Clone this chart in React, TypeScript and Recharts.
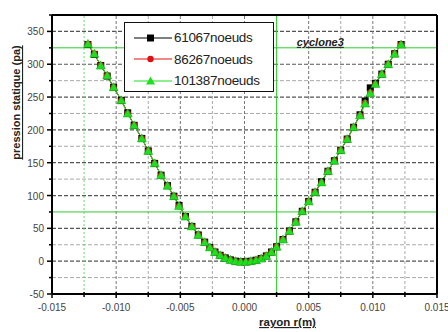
import React from "react";
import { LineChart, Line, XAxis, YAxis, ReferenceLine, ReferenceDot, Label } from "recharts";

// rayon r (m) at each mesh node along the cut
const R_VALUES = [
  -0.0122, -0.0117, -0.0112, -0.0107, -0.0102, -0.0096, -0.0091, -0.0086, -0.008, -0.0075,
  -0.007, -0.0065, -0.006, -0.0055, -0.0051, -0.0046, -0.0041, -0.0036, -0.0031, -0.0027,
  -0.0023, -0.0019, -0.0015, -0.0011, -0.0007, -0.0003, 0.0001, 0.0005, 0.0009, 0.0013,
  0.0017, 0.0021, 0.0025, 0.003, 0.0035, 0.004, 0.0045, 0.005, 0.0055, 0.006,
  0.0065, 0.007, 0.0075, 0.008, 0.0085, 0.009, 0.0094, 0.0098, 0.0102, 0.0107,
  0.0112, 0.0117, 0.0122,
];

// pression statique (pa) for each mesh
const P_61067 = [
  330, 315, 298, 282, 265, 245, 226, 207, 187, 168,
  149, 131, 115, 99, 85, 68, 53, 40, 29, 21,
  14, 9, 5, 2, 0, -1, -1, 0, 1.5, 4,
  8, 14, 22, 33, 46, 60, 76, 91, 105, 121,
  137, 153, 169, 186, 204, 223, 244, 264, 271, 285,
  300, 316, 330,
];
const P_86267 = [
  331, 316, 298, 283, 265, 245, 225, 207, 187, 168,
  149, 131, 115, 99, 84, 68, 53, 40, 29, 21,
  14, 9, 5, 2, 0, -1, -1, 0, 1.5, 4,
  8, 14, 22, 33, 46, 60, 76, 91, 105, 120,
  137, 153, 169, 186, 204, 222, 241, 257, 270, 285,
  300, 316, 330,
];
const P_101387 = [
  331, 316, 298, 283, 265, 245, 225, 207, 187, 168,
  149, 131, 115, 99, 84, 68, 53, 40, 29, 21,
  14, 9, 5, 2, 0, -1, -1, 0, 1.5, 4,
  8, 14, 22, 33, 46, 60, 76, 91, 105, 120,
  137, 153, 169, 186, 204, 222, 240, 256, 270, 285,
  300, 316, 330,
];

const SERIES_NAMES = ["61067noeuds", "86267noeuds", "101387noeuds"];
const SERIES_COLORS = ["#000000", "#e01010", "#1ee01e"];

const X_TICKS = [-0.015, -0.0125, -0.01, -0.0075, -0.005, -0.0025, 0, 0.0025, 0.005, 0.0075, 0.01, 0.0125, 0.015];
const X_LABELED = [-0.015, -0.01, -0.005, 0, 0.005, 0.01, 0.015];
const Y_TICKS = [-50, -25, 0, 25, 50, 75, 100, 125, 150, 175, 200, 225, 250, 275, 300, 325, 350, 375];
const Y_LABELED = [-50, 0, 50, 100, 150, 200, 250, 300, 350];

// green reference lines
const GREEN_H = [325, 75];
const GREEN_V = [0.0025];
const GREEN_V_DOTTED = [-0.0125];

const data = R_VALUES.map((r, i) => ({
  r,
  a: P_61067[i],
  b: P_86267[i],
  c: P_101387[i],
}));

const FONT = "'Liberation Sans', Arial, sans-serif";

const isLabeledX = (v: number) => X_LABELED.some((t) => Math.abs(t - v) < 1e-9);
const isLabeledY = (v: number) => Y_LABELED.includes(v);

const XTick = (props: any) => {
  const { x, y, payload } = props;
  const major = isLabeledX(payload.value);
  return (
    <g>
      <line x1={x} y1={y - 2} x2={x} y2={y + (major ? 4 : 3)} stroke="#000" strokeWidth={1.5} />
      {major && (
        <text x={x} y={y + 17} textAnchor="middle" fontSize={10} fontFamily={FONT} fill="#444">
          {payload.value.toFixed(3)}
        </text>
      )}
    </g>
  );
};

const YTick = (props: any) => {
  const { x, y, payload } = props;
  const major = isLabeledY(payload.value);
  return (
    <g>
      <line x1={x} y1={y} x2={x - (major ? 5 : 3)} y2={y} stroke="#000" strokeWidth={1.5} />
      {major && (
        <text x={x - 8} y={y + 4} textAnchor="end" fontSize={10} fontFamily={FONT} fill="#444">
          {payload.value}
        </text>
      )}
    </g>
  );
};

const SquareDot = (props: any) => {
  const { cx, cy, index } = props;
  if (cx == null || cy == null) return <g key={`s${index}`} />;
  return <rect key={`s${index}`} x={cx - 3.5} y={cy - 3.5} width={7} height={7} fill="#000" />;
};

const CircleDot = (props: any) => {
  const { cx, cy, index } = props;
  if (cx == null || cy == null) return <g key={`c${index}`} />;
  return <circle key={`c${index}`} cx={cx} cy={cy} r={3.2} fill="#e01010" />;
};

const TriangleDot = (props: any) => {
  const { cx, cy, index } = props;
  if (cx == null || cy == null) return <g key={`t${index}`} />;
  return (
    <polygon
      key={`t${index}`}
      points={`${cx},${cy - 4.5} ${cx + 4.5},${cy + 3.5} ${cx - 4.5},${cy + 3.5}`}
      fill="#1ee01e"
      stroke="#16a016"
      strokeWidth={0.5}
    />
  );
};

const LegendIcon = ({ i }: { i: number }) => {
  const color = SERIES_COLORS[i];
  return (
    <svg width={38} height={12} style={{ display: "block" }}>
      <line x1={0} y1={6} x2={38} y2={6} stroke={color} strokeWidth={1.2} />
      {i === 0 && <rect x={13} y={2.5} width={7} height={7} fill={color} />}
      {i === 1 && <circle cx={16.5} cy={6} r={3.2} fill={color} />}
      {i === 2 && <polygon points="16.5,1.5 21,9.5 12,9.5" fill={color} />}
    </svg>
  );
};

const LegendBox = () => (
  <div
    style={{
      position: "absolute",
      left: 124,
      top: 22,
      width: 150,
      height: 70,
      border: "1.5px solid #111",
      background: "#fff",
      boxSizing: "border-box",
      padding: "4px 0 0 9px",
      fontFamily: FONT,
    }}
  >
    {SERIES_NAMES.map((name, i) => (
      <div key={name} style={{ display: "flex", alignItems: "center", height: 21.5 }}>
        <LegendIcon i={i} />
        <span style={{ fontSize: 13.5, color: "#222", marginLeft: 2, letterSpacing: -0.3 }}>{name}</span>
      </div>
    ))}
  </div>
);

const YTitle = (props: any) => {
  const { viewBox } = props;
  const cx = viewBox.x + 16;
  const cy = viewBox.y + viewBox.height / 2 - 52;
  return (
    <text
      x={cx}
      y={cy}
      transform={`rotate(-90, ${cx}, ${cy})`}
      textAnchor="middle"
      dominantBaseline="central"
      fontSize={11}
      fontWeight="bold"
      fontFamily={FONT}
      fill="#222"
      textDecoration="underline"
    >
      pression statique (pa)
    </text>
  );
};

const XTitle = (props: any) => {
  const { viewBox } = props;
  const cx = viewBox.x + viewBox.width / 2 + 43;
  return (
    <text
      x={cx}
      y={viewBox.y + 32}
      textAnchor="middle"
      fontSize={11.5}
      fontWeight="bold"
      fontFamily={FONT}
      fill="#222"
      textDecoration="underline"
    >
      rayon r(m)
    </text>
  );
};

const CycloneLabel = (props: any) => {
  const { viewBox } = props;
  return (
    <text
      x={viewBox.x - 44}
      y={viewBox.y - 2}
      textAnchor="start"
      fontSize={11}
      fontWeight="bold"
      fontStyle="italic"
      fontFamily={FONT}
      fill="#222"
      textDecoration="underline"
    >
      cyclone3
    </text>
  );
};

export default function App() {
  return (
    <div style={{ position: "absolute", left: 0, top: 0, width: 448, height: 332, background: "#fff" }}>
      <LineChart width={448} height={332} data={data} margin={{ top: 15, right: 11, bottom: 0, left: 0 }}>
        <XAxis
          dataKey="r"
          type="number"
          domain={[-0.015, 0.015]}
          ticks={X_TICKS}
          interval={0}
          tick={<XTick />}
          tickLine={false}
          tickSize={0}
          tickMargin={0}
          height={38}
          axisLine={{ stroke: "#000", strokeWidth: 2 }}
          allowDataOverflow
        >
          <Label content={<XTitle />} />
        </XAxis>
        <YAxis
          type="number"
          domain={[-50, 375]}
          ticks={Y_TICKS}
          interval={0}
          tick={<YTick />}
          tickLine={false}
          tickSize={0}
          tickMargin={0}
          width={52}
          axisLine={{ stroke: "#000", strokeWidth: 2 }}
          allowDataOverflow
        >
          <Label content={<YTitle />} />
        </YAxis>

        {/* grid */}
        {Y_TICKS.filter((v) => v > -50 && v < 375 && !GREEN_H.includes(v)).map((v) => (
          <ReferenceLine
            key={`gy${v}`}
            y={v}
            stroke={isLabeledY(v) ? "#555" : "#aaa"}
            strokeWidth={isLabeledY(v) ? 1.2 : 1}
            strokeDasharray="4 2"
          />
        ))}
        {X_TICKS.filter(
          (v) => v > -0.015 && v < 0.015 && !GREEN_V.includes(v) && !GREEN_V_DOTTED.includes(v)
        ).map((v) => (
          <ReferenceLine
            key={`gx${v}`}
            x={v}
            stroke={isLabeledX(v) ? "#777" : "#aaa"}
            strokeDasharray="3 2"
          />
        ))}
        {GREEN_H.map((v) => (
          <ReferenceLine key={`hh${v}`} y={v} stroke="#2ecc2e" strokeWidth={1} />
        ))}
        {GREEN_V.map((v) => (
          <ReferenceLine key={`vv${v}`} x={v} stroke="#2ecc2e" strokeWidth={1} />
        ))}
        {GREEN_V_DOTTED.map((v) => (
          <ReferenceLine key={`vd${v}`} x={v} stroke="#6bd66b" strokeDasharray="2 2" />
        ))}

        {/* frame */}
        <ReferenceLine y={375} stroke="#000" strokeWidth={2} />
        <ReferenceLine x={0.015} stroke="#000" strokeWidth={2} />

        <Line
          dataKey="a"
          name={SERIES_NAMES[0]}
          stroke={SERIES_COLORS[0]}
          strokeWidth={1}
          dot={<SquareDot />}
          isAnimationActive={false}
        />
        <Line
          dataKey="b"
          name={SERIES_NAMES[1]}
          stroke={SERIES_COLORS[1]}
          strokeWidth={1}
          dot={<CircleDot />}
          isAnimationActive={false}
        />
        <Line
          dataKey="c"
          name={SERIES_NAMES[2]}
          stroke={SERIES_COLORS[2]}
          strokeWidth={1}
          dot={<TriangleDot />}
          isAnimationActive={false}
        />

        <ReferenceDot x={0.0075} y={325} r={0} fill="none" stroke="none" label={<CycloneLabel />} />
      </LineChart>
      <LegendBox />
    </div>
  );
}
